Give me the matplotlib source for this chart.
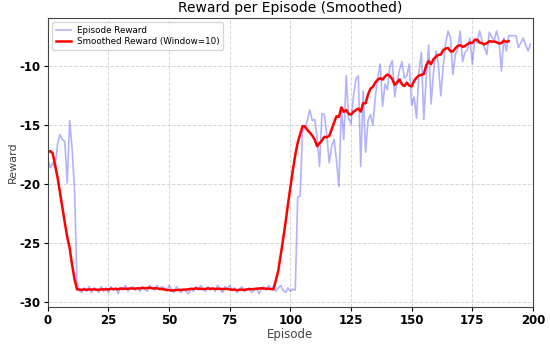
import numpy as np
import matplotlib.pyplot as plt

plt.rcParams["axes.unicode_minus"] = False

window = 10

# episodes 0-12: start of training
start_rewards = [-18.0, -18.6, -18.2, -18.6, -16.6, -15.8, -16.2, -16.4, -19.9, -14.6,
                 -17.0, -20.5, -28.3]

# episodes 13-102: stuck near the floor
flat_rewards = [-29.0, -29.2, -28.8, -29.1, -28.7, -29.2, -28.8, -28.9, -29.2, -28.7,
                -29.1, -28.8, -29.2, -28.7, -29.0, -28.8, -29.3, -28.8, -29.0, -28.6,
                -29.1, -28.8, -28.7, -29.0, -28.8, -29.1, -28.7, -28.9, -29.1, -28.6,
                -28.8, -29.0, -28.6, -28.9, -28.7, -28.8, -29.0, -28.6, -28.9, -29.2,
                -28.7, -29.0, -29.2, -28.9, -29.1, -29.3, -28.9, -29.1, -28.7, -29.0,
                -28.6, -28.9, -29.1, -28.7, -29.0, -28.8, -29.1, -28.6, -28.9, -29.2,
                -28.7, -28.9, -28.6, -29.0, -28.8, -29.2, -28.9, -28.7, -29.1, -29.0,
                -28.8, -29.2, -29.0, -28.8, -29.3, -28.9, -28.7, -29.0, -28.6, -28.9,
                -28.7, -29.1, -28.8, -28.6, -29.0, -29.2, -28.8, -29.1, -28.9, -29.0]

# episodes 103-199: recovery
late_rewards = [-21.1, -21.0, -15.6, -15.2, -14.6, -13.7, -14.6, -14.5, -16.0, -18.5,
                -14.0, -14.1, -15.8, -18.2, -16.8, -16.2, -18.0, -20.2, -13.5, -16.2,
                -10.8, -14.4, -14.9, -12.5, -11.1, -10.8, -18.5, -12.1, -17.3, -14.6,
                -14.1, -15.0, -12.6, -11.0, -9.8, -13.4, -11.5, -12.0, -10.0, -9.5,
                -12.6, -11.3, -10.3, -9.6, -11.0, -10.8, -9.8, -13.3, -12.6, -14.4,
                -10.5, -8.8, -14.5, -11.0, -8.2, -13.2, -10.5, -8.7, -9.8, -12.5,
                -10.0, -8.1, -7.0, -7.6, -10.7, -9.0, -8.5, -7.0, -9.6, -8.8,
                -8.6, -7.6, -9.8, -7.8, -8.0, -7.0, -7.8, -8.4, -9.0, -7.1,
                -7.5, -7.8, -7.0, -7.8, -10.4, -7.6, -8.7, -7.4, -7.4, -7.4,
                -7.4, -8.4, -8.0, -7.6, -8.2, -8.7, -8.1]

rewards = np.array(start_rewards + flat_rewards + late_rewards)
episodes = np.arange(len(rewards))

smoothed = np.convolve(rewards, np.ones(window) / window, mode="valid")

fig, ax = plt.subplots(figsize=(5.5, 3.44), dpi=100)
fig.subplots_adjust(left=0.087, right=0.969, top=0.948, bottom=0.108)

ax.plot(episodes, rewards, color="blue", alpha=0.3, linewidth=1.2, label="Episode Reward")
ax.plot(np.arange(len(smoothed)), smoothed, color="red", linewidth=1.8,
        label=f"Smoothed Reward (Window={window})")

ax.set_xlim(0, 200)
ax.set_xticks([0, 25, 50, 75, 100, 125, 150, 175, 200])
ax.set_yticks([-30, -25, -20, -15, -10])
ax.grid(True, linestyle="--", color="#cccccc", linewidth=0.7, alpha=0.8)

ax.set_title("Reward per Episode (Smoothed)", fontsize=10, pad=4)
ax.set_xlabel("Episode", fontsize=8.5, color="#444444", labelpad=1)
ax.set_ylabel("Reward", fontsize=8, color="#444444", labelpad=1)
for lbl in ax.get_xticklabels() + ax.get_yticklabels():
    lbl.set_fontweight("bold")
    lbl.set_fontsize(8.5)
ax.tick_params(length=3, pad=2)
for sp in ax.spines.values():
    sp.set_color("#444444")

ax.legend(loc="upper left", fontsize=6.3, frameon=True, handlelength=1.8,
          borderpad=0.4, labelspacing=0.3, handletextpad=0.6)

fig.savefig("out.png", dpi=100)
plt.close(fig)
